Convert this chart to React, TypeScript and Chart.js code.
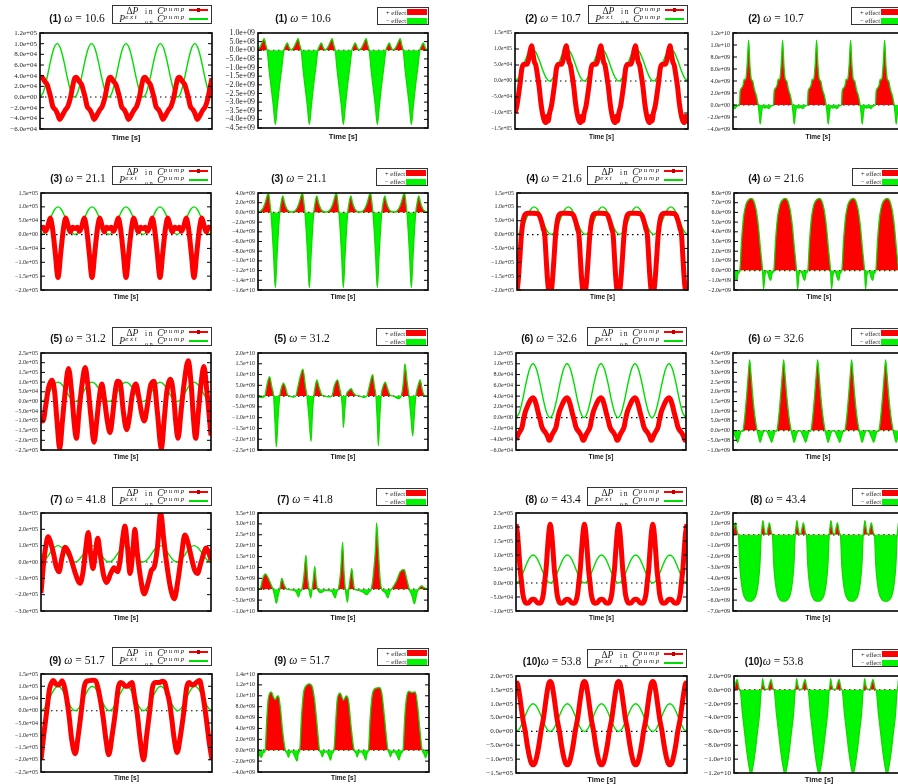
import React, { useEffect, useRef } from 'react';
import { Chart, registerables } from 'chart.js';
Chart.register(...registerables);

type Pt = [number, number];

// ---------- DATA (time in periods, values in panel units) ----------
const PEXT: Pt[] = [
[0,0],[.1,.95],[.2,3.45],[.3,6.55],[.4,9.05],[.5,10],[.6,9.05],[.7,6.55],[.8,3.45],[.9,.95],
[1,0],[1.1,.95],[1.2,3.45],[1.3,6.55],[1.4,9.05],[1.5,10],[1.6,9.05],[1.7,6.55],[1.8,3.45],[1.9,.95],
[2,0],[2.1,.95],[2.2,3.45],[2.3,6.55],[2.4,9.05],[2.5,10],[2.6,9.05],[2.7,6.55],[2.8,3.45],[2.9,.95],
[3,0],[3.1,.95],[3.2,3.45],[3.3,6.55],[3.4,9.05],[3.5,10],[3.6,9.05],[3.7,6.55],[3.8,3.45],[3.9,.95],
[4,0],[4.1,.95],[4.2,3.45],[4.3,6.55],[4.4,9.05],[4.5,10],[4.6,9.05],[4.7,6.55],[4.8,3.45],[4.9,.95],
[5,0]];

const P1L: Pt[] = [
[0,3.4],[.06,3.7],[.13,3],[.21,2.3],[.26,1.2],[.31,0],[.37,-1.75],[.45,-2.4],[.51,-3.2],[.57,-4.2],[.62,-3.8],[.67,-3.2],[.74,-2.4],[.81,-1.75],[.89,0],[.95,2],
[1,3.4],[1.06,3.7],[1.13,3],[1.21,2.3],[1.26,1.2],[1.31,0],[1.37,-1.75],[1.45,-2.4],[1.51,-3.2],[1.57,-4.2],[1.62,-3.8],[1.67,-3.2],[1.74,-2.4],[1.81,-1.75],[1.89,0],[1.95,2],
[2,3.4],[2.06,3.7],[2.13,3],[2.21,2.3],[2.26,1.2],[2.31,0],[2.37,-1.75],[2.45,-2.4],[2.51,-3.2],[2.57,-4.2],[2.62,-3.8],[2.67,-3.2],[2.74,-2.4],[2.81,-1.75],[2.89,0],[2.95,2],
[3,3.4],[3.06,3.7],[3.13,3],[3.21,2.3],[3.26,1.2],[3.31,0],[3.37,-1.75],[3.45,-2.4],[3.51,-3.2],[3.57,-4.2],[3.62,-3.8],[3.67,-3.2],[3.74,-2.4],[3.81,-1.75],[3.89,0],[3.95,2],
[4,3.4],[4.06,3.7],[4.13,3],[4.21,2.3],[4.26,1.2],[4.31,0],[4.37,-1.75],[4.45,-2.4],[4.51,-3.2],[4.57,-4.2],[4.62,-3.8],[4.67,-3.2],[4.74,-2.4],[4.81,-1.75],[4.89,0],[4.95,2],
[5,3.5]];

const P2L: Pt[] = [
[0,-10],[.05,-8],[.1,-4.5],[.15,-.5],[.2,4],[.27,5.2],[.34,5.2],[.4,7],[.44,9.5],[.48,11],[.52,8.5],[.56,6],[.6,5],[.64,2.5],[.7,-2],[.75,-7],[.8,-10.5],[.85,-12.5],[.9,-13],[.93,-11],[.96,-12.5],
[1,-10],[1.05,-8],[1.1,-4.5],[1.15,-.5],[1.2,4],[1.27,5.2],[1.34,5.2],[1.4,7],[1.44,9.5],[1.48,11],[1.52,8.5],[1.56,6],[1.6,5],[1.64,2.5],[1.7,-2],[1.75,-7],[1.8,-10.5],[1.85,-12.5],[1.9,-13],[1.93,-11],[1.96,-12.5],
[2,-10],[2.05,-8],[2.1,-4.5],[2.15,-.5],[2.2,4],[2.27,5.2],[2.34,5.2],[2.4,7],[2.44,9.5],[2.48,11],[2.52,8.5],[2.56,6],[2.6,5],[2.64,2.5],[2.7,-2],[2.75,-7],[2.8,-10.5],[2.85,-12.5],[2.9,-13],[2.93,-11],[2.96,-12.5],
[3,-10],[3.05,-8],[3.1,-4.5],[3.15,-.5],[3.2,4],[3.27,5.2],[3.34,5.2],[3.4,7],[3.44,9.5],[3.48,11],[3.52,8.5],[3.56,6],[3.6,5],[3.64,2.5],[3.7,-2],[3.75,-7],[3.8,-10.5],[3.85,-12.5],[3.9,-13],[3.93,-11],[3.96,-12.5],
[4,-10],[4.05,-8],[4.1,-4.5],[4.15,-.5],[4.2,4],[4.27,5.2],[4.34,5.2],[4.4,7],[4.44,9.5],[4.48,11],[4.52,8.5],[4.56,6],[4.6,5],[4.64,2.5],[4.7,-2],[4.75,-7],[4.8,-10.5],[4.85,-12.5],[4.9,-13],[4.93,-11],[4.96,-12.5],
[5,-10.5]];

const P3L: Pt[] = [
[0,2.2],[.07,2.6],[.13,1.2],[.2,3],[.27,6],[.33,3],[.38,-2],[.43,-8],[.47,-13.5],[.5,-15.5],[.53,-13.5],[.57,-8],[.62,-2],[.67,3],[.73,6],[.8,3],[.86,1],[.93,2.6],
[1,2.2],[1.07,2.6],[1.13,1.2],[1.2,3],[1.27,6],[1.33,3],[1.38,-2],[1.43,-8],[1.47,-13.5],[1.5,-15.5],[1.53,-13.5],[1.57,-8],[1.62,-2],[1.67,3],[1.73,6],[1.8,3],[1.86,1],[1.93,2.6],
[2,2.2],[2.07,2.6],[2.13,1.2],[2.2,3],[2.27,6],[2.33,3],[2.38,-2],[2.43,-8],[2.47,-13.5],[2.5,-15.5],[2.53,-13.5],[2.57,-8],[2.62,-2],[2.67,3],[2.73,6],[2.8,3],[2.86,1],[2.93,2.6],
[3,2.2],[3.07,2.6],[3.13,1.2],[3.2,3],[3.27,6],[3.33,3],[3.38,-2],[3.43,-8],[3.47,-13.5],[3.5,-15.5],[3.53,-13.5],[3.57,-8],[3.62,-2],[3.67,3],[3.73,6],[3.8,3],[3.86,1],[3.93,2.6],
[4,2.2],[4.07,2.6],[4.13,1.2],[4.2,3],[4.27,6],[4.33,3],[4.38,-2],[4.43,-8],[4.47,-13.5],[4.5,-15.5],[4.53,-13.5],[4.57,-8],[4.62,-2],[4.67,3],[4.73,6],[4.8,3],[4.86,1],[4.93,2.6],
[5,2.4]];

const P4L: Pt[] = [
[0,-20.5],[.04,-16],[.08,-9],[.13,0],[.18,5],[.24,7.3],[.32,7.7],[.45,7.7],[.58,7.6],[.65,7],[.72,4.5],[.77,2],[.81,0],[.85,-8],[.89,-16],[.93,-20.5],[.97,-21],
[1,-20.5],[1.04,-16],[1.08,-9],[1.13,0],[1.18,5],[1.24,7.3],[1.32,7.7],[1.45,7.7],[1.58,7.6],[1.65,7],[1.72,4.5],[1.77,2],[1.81,0],[1.85,-8],[1.89,-16],[1.93,-20.5],[1.97,-21],
[2,-20.5],[2.04,-16],[2.08,-9],[2.13,0],[2.18,5],[2.24,7.3],[2.32,7.7],[2.45,7.7],[2.58,7.6],[2.65,7],[2.72,4.5],[2.77,2],[2.81,0],[2.85,-8],[2.89,-16],[2.93,-20.5],[2.97,-21],
[3,-20.5],[3.04,-16],[3.08,-9],[3.13,0],[3.18,5],[3.24,7.3],[3.32,7.7],[3.45,7.7],[3.58,7.6],[3.65,7],[3.72,4.5],[3.77,2],[3.81,0],[3.85,-8],[3.89,-16],[3.93,-20.5],[3.97,-21],
[4,-20.5],[4.04,-16],[4.08,-9],[4.13,0],[4.18,5],[4.24,7.3],[4.32,7.7],[4.45,7.7],[4.58,7.6],[4.65,7],[4.72,4.5],[4.77,2],[4.81,0],[4.85,-8],[4.89,-16],[4.93,-20.5],[4.97,-21],
[5,-20.5]];

const P5L: Pt[] = [
[0,-8],[.06,-10],[.14,-2],[.22,7],[.32,11],[.4,5],[.47,-10],[.55,-24],[.63,-10],[.7,3],[.81,17],[.9,5],[.97,-10],
[1.04,-19],[1.12,-5],[1.2,8],[1.3,17.5],[1.38,8],[1.47,-8],[1.56,-21],[1.64,-10],[1.7,0],[1.79,9],[1.86,2],[1.95,-10],
[2.03,-16],[2.12,-5],[2.18,5],[2.25,10.5],[2.33,9.5],[2.42,-5],[2.52,-14.5],[2.6,-8],[2.68,3],[2.79,9],[2.88,2],[2.96,-6],
[3.04,-10],[3.13,-2],[3.22,8],[3.32,10.5],[3.42,-5],[3.54,-24],[3.63,-8],[3.7,5],[3.81,11.5],[3.9,3],[3.96,-10],
[4.03,-19],[4.12,-5],[4.2,8],[4.33,21],[4.42,8],[4.48,-8],[4.55,-19],[4.63,-5],[4.7,8],[4.79,18],[4.88,5],[5,-17.5]];

const P6L: Pt[] = [
[0,-4.1],[.06,-3.2],[.12,-2.5],[.18,-1.7],[.22,-.4],[.27,1],[.33,2],[.4,3],[.45,3.5],[.5,3.7],[.55,3.3],[.6,2.3],[.65,1],[.71,-.4],[.76,-1.7],[.81,-2.3],[.87,-2.8],[.93,-3.5],[.97,-4.2],
[1,-4.1],[1.06,-3.2],[1.12,-2.5],[1.18,-1.7],[1.22,-.4],[1.27,1],[1.33,2],[1.4,3],[1.45,3.5],[1.5,3.7],[1.55,3.3],[1.6,2.3],[1.65,1],[1.71,-.4],[1.76,-1.7],[1.81,-2.3],[1.87,-2.8],[1.93,-3.5],[1.97,-4.2],
[2,-4.1],[2.06,-3.2],[2.12,-2.5],[2.18,-1.7],[2.22,-.4],[2.27,1],[2.33,2],[2.4,3],[2.45,3.5],[2.5,3.7],[2.55,3.3],[2.6,2.3],[2.65,1],[2.71,-.4],[2.76,-1.7],[2.81,-2.3],[2.87,-2.8],[2.93,-3.5],[2.97,-4.2],
[3,-4.1],[3.06,-3.2],[3.12,-2.5],[3.18,-1.7],[3.22,-.4],[3.27,1],[3.33,2],[3.4,3],[3.45,3.5],[3.5,3.7],[3.55,3.3],[3.6,2.3],[3.65,1],[3.71,-.4],[3.76,-1.7],[3.81,-2.3],[3.87,-2.8],[3.93,-3.5],[3.97,-4.2],
[4,-4.1],[4.06,-3.2],[4.12,-2.5],[4.18,-1.7],[4.22,-.4],[4.27,1],[4.33,2],[4.4,3],[4.45,3.5],[4.5,3.7],[4.55,3.3],[4.6,2.3],[4.65,1],[4.71,-.4],[4.76,-1.7],[4.81,-2.3],[4.87,-2.8],[4.93,-3.5],[4.97,-4.2],
[5,-4.1]];

const P7L: Pt[] = [
[0,-19],[.08,0],[.16,12],[.21,15.5],[.27,13],[.37,5],[.45,-3],[.53,-6],[.62,3],[.71,9],[.81,6],[.91,0],
[1.01,-7],[1.15,-13],[1.23,-7],[1.3,5],[1.39,18],[1.46,5],[1.53,-4],[1.6,6],[1.67,14.5],[1.74,5],[1.84,-8],[1.93,-12.5],
[2.05,-7],[2.15,-3.5],[2.25,-6],[2.32,0],[2.4,14],[2.47,22],[2.54,10],[2.62,-7],[2.7,6],[2.76,20],[2.83,6],[2.93,-10],
[3.03,-19.5],[3.16,-12],[3.25,-5],[3.33,-3],[3.42,8],[3.52,30],[3.61,14],[3.69,0],[3.81,-16],[3.92,-22.5],
[4.03,-11],[4.13,4],[4.23,16.5],[4.32,12],[4.42,3],[4.52,-5],[4.6,-7],[4.71,0],[4.86,8.5],[4.96,4],[5,1]];

const P8L: Pt[] = [
[0,21],[.04,18],[.08,12],[.12,5],[.165,0],[.2,-4],[.25,-6.5],[.3,-7.2],[.38,-7],[.45,-6],[.5,-5.8],[.55,-6],[.62,-7],[.7,-7.2],[.75,-6.5],[.8,-4],[.835,0],[.88,5],[.92,12],[.96,18],
[1,21],[1.04,18],[1.08,12],[1.12,5],[1.165,0],[1.2,-4],[1.25,-6.5],[1.3,-7.2],[1.38,-7],[1.45,-6],[1.5,-5.8],[1.55,-6],[1.62,-7],[1.7,-7.2],[1.75,-6.5],[1.8,-4],[1.835,0],[1.88,5],[1.92,12],[1.96,18],
[2,21],[2.04,18],[2.08,12],[2.12,5],[2.165,0],[2.2,-4],[2.25,-6.5],[2.3,-7.2],[2.38,-7],[2.45,-6],[2.5,-5.8],[2.55,-6],[2.62,-7],[2.7,-7.2],[2.75,-6.5],[2.8,-4],[2.835,0],[2.88,5],[2.92,12],[2.96,18],
[3,21],[3.04,18],[3.08,12],[3.12,5],[3.165,0],[3.2,-4],[3.25,-6.5],[3.3,-7.2],[3.38,-7],[3.45,-6],[3.5,-5.8],[3.55,-6],[3.62,-7],[3.7,-7.2],[3.75,-6.5],[3.8,-4],[3.835,0],[3.88,5],[3.92,12],[3.96,18],
[4,21],[4.04,18],[4.08,12],[4.12,5],[4.165,0],[4.2,-4],[4.25,-6.5],[4.3,-7.2],[4.38,-7],[4.45,-6],[4.5,-5.8],[4.55,-6],[4.62,-7],[4.7,-7.2],[4.75,-6.5],[4.8,-4],[4.835,0],[4.88,5],[4.92,12],[4.96,18],
[5,21]];

const P9L: Pt[] = [
[0,-20],[.08,-10],[.17,0],[.25,9],[.31,11.5],[.36,12.3],[.43,11],[.49,10.5],[.55,11],[.62,12.2],[.68,10],[.75,5],[.82,-2],[.9,-12],
[1,-17.5],[1.09,-10],[1.18,0],[1.26,9.5],[1.33,12],[1.42,12.3],[1.52,12.5],[1.6,12.2],[1.67,9],[1.74,4],[1.82,-3],[1.9,-12],
[1.98,-18],[2.08,-10],[2.18,0],[2.26,9.5],[2.33,11.5],[2.4,11],[2.47,10],[2.53,10],[2.6,11],[2.66,11.5],[2.73,6],[2.82,-2],[2.9,-12],
[3,-20],[3.09,-10],[3.18,0],[3.26,9.5],[3.34,11.5],[3.45,11.5],[3.55,12],[3.62,11.5],[3.68,8],[3.75,4],[3.82,-3],[3.9,-12],
[3.98,-17],[4.08,-10],[4.18,0],[4.26,9.5],[4.33,11.5],[4.42,10.5],[4.5,11],[4.58,12],[4.64,12.3],[4.7,9],[4.76,4],[4.84,-4],[4.92,-13],[5,-20]];

const P10L: Pt[] = [
[0,18],[.05,17],[.1,13.5],[.15,9],[.2,4.5],[.27,0],[.33,-5],[.4,-9.5],[.45,-11.5],[.5,-12],[.55,-11.5],[.6,-9.5],[.67,-5],[.73,0],[.8,4.5],[.85,9],[.9,13.5],[.95,17],
[1,18],[1.05,17],[1.1,13.5],[1.15,9],[1.2,4.5],[1.27,0],[1.33,-5],[1.4,-9.5],[1.45,-11.5],[1.5,-12],[1.55,-11.5],[1.6,-9.5],[1.67,-5],[1.73,0],[1.8,4.5],[1.85,9],[1.9,13.5],[1.95,17],
[2,18],[2.05,17],[2.1,13.5],[2.15,9],[2.2,4.5],[2.27,0],[2.33,-5],[2.4,-9.5],[2.45,-11.5],[2.5,-12],[2.55,-11.5],[2.6,-9.5],[2.67,-5],[2.73,0],[2.8,4.5],[2.85,9],[2.9,13.5],[2.95,17],
[3,18],[3.05,17],[3.1,13.5],[3.15,9],[3.2,4.5],[3.27,0],[3.33,-5],[3.4,-9.5],[3.45,-11.5],[3.5,-12],[3.55,-11.5],[3.6,-9.5],[3.67,-5],[3.73,0],[3.8,4.5],[3.85,9],[3.9,13.5],[3.95,17],
[4,18],[4.05,17],[4.1,13.5],[4.15,9],[4.2,4.5],[4.27,0],[4.33,-5],[4.4,-9.5],[4.45,-11.5],[4.5,-12],[4.55,-11.5],[4.6,-9.5],[4.67,-5],[4.73,0],[4.8,4.5],[4.85,9],[4.9,13.5],[4.95,17],
[5,18]];

const P1R: Pt[] = [
[0,.05],[.06,.2],[.12,.45],[.18,.68],[.23,.3],[.27,0],[.33,-1.2],[.39,-2.2],[.45,-3.2],[.51,-4.3],[.57,-3.2],[.63,-2.1],[.7,-1],[.76,0],[.81,.25],[.86,.42],[.92,.15],[.97,.02],
[1,.05],[1.06,.2],[1.12,.45],[1.18,.68],[1.23,.3],[1.27,0],[1.33,-1.2],[1.39,-2.2],[1.45,-3.2],[1.51,-4.3],[1.57,-3.2],[1.63,-2.1],[1.7,-1],[1.76,0],[1.81,.25],[1.86,.42],[1.92,.15],[1.97,.02],
[2,.05],[2.06,.2],[2.12,.45],[2.18,.68],[2.23,.3],[2.27,0],[2.33,-1.2],[2.39,-2.2],[2.45,-3.2],[2.51,-4.3],[2.57,-3.2],[2.63,-2.1],[2.7,-1],[2.76,0],[2.81,.25],[2.86,.42],[2.92,.15],[2.97,.02],
[3,.05],[3.06,.2],[3.12,.45],[3.18,.68],[3.23,.3],[3.27,0],[3.33,-1.2],[3.39,-2.2],[3.45,-3.2],[3.51,-4.3],[3.57,-3.2],[3.63,-2.1],[3.7,-1],[3.76,0],[3.81,.25],[3.86,.42],[3.92,.15],[3.97,.02],
[4,.05],[4.06,.2],[4.12,.45],[4.18,.68],[4.23,.3],[4.27,0],[4.33,-1.2],[4.39,-2.2],[4.45,-3.2],[4.51,-4.3],[4.57,-3.2],[4.63,-2.1],[4.7,-1],[4.76,0],[4.81,.25],[4.86,.42],[4.92,.15],[4.97,.02],
[5,.05]];

const P2R: Pt[] = [
[0,-.4],[.05,-.6],[.1,-.3],[.15,-.1],[.19,0],[.21,2.3],[.25,2.8],[.3,3.4],[.33,4.3],[.37,4.2],[.42,7],[.46,10.8],[.5,6.5],[.54,4.3],[.58,4],[.63,2.6],[.69,1.5],[.74,0],[.77,-1.5],[.8,-3.2],[.84,-1.2],[.88,-.3],[.94,-.5],
[1,-.4],[1.05,-.6],[1.1,-.3],[1.15,-.1],[1.19,0],[1.21,2.3],[1.25,2.8],[1.3,3.4],[1.33,4.3],[1.37,4.2],[1.42,7],[1.46,10.8],[1.5,6.5],[1.54,4.3],[1.58,4],[1.63,2.6],[1.69,1.5],[1.74,0],[1.77,-1.5],[1.8,-3.2],[1.84,-1.2],[1.88,-.3],[1.94,-.5],
[2,-.4],[2.05,-.6],[2.1,-.3],[2.15,-.1],[2.19,0],[2.21,2.3],[2.25,2.8],[2.3,3.4],[2.33,4.3],[2.37,4.2],[2.42,7],[2.46,10.8],[2.5,6.5],[2.54,4.3],[2.58,4],[2.63,2.6],[2.69,1.5],[2.74,0],[2.77,-1.5],[2.8,-3.2],[2.84,-1.2],[2.88,-.3],[2.94,-.5],
[3,-.4],[3.05,-.6],[3.1,-.3],[3.15,-.1],[3.19,0],[3.21,2.3],[3.25,2.8],[3.3,3.4],[3.33,4.3],[3.37,4.2],[3.42,7],[3.46,10.8],[3.5,6.5],[3.54,4.3],[3.58,4],[3.63,2.6],[3.69,1.5],[3.74,0],[3.77,-1.5],[3.8,-3.2],[3.84,-1.2],[3.88,-.3],[3.94,-.5],
[4,-.4],[4.05,-.6],[4.1,-.3],[4.15,-.1],[4.19,0],[4.21,2.3],[4.25,2.8],[4.3,3.4],[4.33,4.3],[4.37,4.2],[4.42,7],[4.46,10.8],[4.5,6.5],[4.54,4.3],[4.58,4],[4.63,2.6],[4.69,1.5],[4.74,0],[4.77,-1.5],[4.8,-3.2],[4.84,-1.2],[4.88,-.3],[4.94,-.5],
[5,-.4]];

const P3R: Pt[] = [
[0,.1],[.08,.3],[.15,.9],[.22,2.2],[.27,3.5],[.31,4],[.35,2],[.38,0],[.42,-4],[.46,-9],[.51,-15.5],[.56,-9],[.6,-4],[.64,0],[.68,2],[.73,3.4],[.78,2],[.85,.7],[.92,.2],
[1,.1],[1.08,.3],[1.15,.9],[1.22,2.2],[1.27,3.5],[1.31,4],[1.35,2],[1.38,0],[1.42,-4],[1.46,-9],[1.51,-15.5],[1.56,-9],[1.6,-4],[1.64,0],[1.68,2],[1.73,3.4],[1.78,2],[1.85,.7],[1.92,.2],
[2,.1],[2.08,.3],[2.15,.9],[2.22,2.2],[2.27,3.5],[2.31,4],[2.35,2],[2.38,0],[2.42,-4],[2.46,-9],[2.51,-15.5],[2.56,-9],[2.6,-4],[2.64,0],[2.68,2],[2.73,3.4],[2.78,2],[2.85,.7],[2.92,.2],
[3,.1],[3.08,.3],[3.15,.9],[3.22,2.2],[3.27,3.5],[3.31,4],[3.35,2],[3.38,0],[3.42,-4],[3.46,-9],[3.51,-15.5],[3.56,-9],[3.6,-4],[3.64,0],[3.68,2],[3.73,3.4],[3.78,2],[3.85,.7],[3.92,.2],
[4,.1],[4.08,.3],[4.15,.9],[4.22,2.2],[4.27,3.5],[4.31,4],[4.35,2],[4.38,0],[4.42,-4],[4.46,-9],[4.51,-15.5],[4.56,-9],[4.6,-4],[4.64,0],[4.68,2],[4.73,3.4],[4.78,2],[4.85,.7],[4.92,.2],
[5,.1]];

const P4R: Pt[] = [
[0,-.3],[.04,-.8],[.08,-1],[.12,-.3],[.17,0],[.22,3],[.28,5.5],[.35,6.8],[.43,7.3],[.51,7.45],[.58,7.2],[.65,6.3],[.72,4.5],[.78,2.2],[.84,0],[.87,-1.9],[.91,-.5],[.96,-.1],
[1,-.3],[1.04,-.8],[1.08,-1],[1.12,-.3],[1.17,0],[1.22,3],[1.28,5.5],[1.35,6.8],[1.43,7.3],[1.51,7.45],[1.58,7.2],[1.65,6.3],[1.72,4.5],[1.78,2.2],[1.84,0],[1.87,-1.9],[1.91,-.5],[1.96,-.1],
[2,-.3],[2.04,-.8],[2.08,-1],[2.12,-.3],[2.17,0],[2.22,3],[2.28,5.5],[2.35,6.8],[2.43,7.3],[2.51,7.45],[2.58,7.2],[2.65,6.3],[2.72,4.5],[2.78,2.2],[2.84,0],[2.87,-1.9],[2.91,-.5],[2.96,-.1],
[3,-.3],[3.04,-.8],[3.08,-1],[3.12,-.3],[3.17,0],[3.22,3],[3.28,5.5],[3.35,6.8],[3.43,7.3],[3.51,7.45],[3.58,7.2],[3.65,6.3],[3.72,4.5],[3.78,2.2],[3.84,0],[3.87,-1.9],[3.91,-.5],[3.96,-.1],
[4,-.3],[4.04,-.8],[4.08,-1],[4.12,-.3],[4.17,0],[4.22,3],[4.28,5.5],[4.35,6.8],[4.43,7.3],[4.51,7.45],[4.58,7.2],[4.65,6.3],[4.72,4.5],[4.78,2.2],[4.84,0],[4.87,-1.9],[4.91,-.5],[4.96,-.1],
[5,-.3]];

const P5R: Pt[] = [
[0,-.3],[.12,-.7],[.2,0],[.26,5],[.34,9],[.41,4],[.46,0],[.5,-12],[.54,-23.5],[.59,-10],[.64,0],[.7,4.5],[.75,6],[.81,4],[.87,.5],[.95,0],
[1.03,-.5],[1.11,0],[1.17,4],[1.24,9],[1.32,12.5],[1.4,4],[1.44,0],[1.5,-10],[1.56,-21],[1.6,-8],[1.64,0],[1.69,5],[1.73,7.5],[1.8,4],[1.88,.5],[1.98,0],
[2.07,-.4],[2.17,0],[2.25,5],[2.34,7.5],[2.41,3],[2.45,0],[2.49,-7],[2.51,-14.5],[2.55,-7],[2.59,0],[2.67,2.5],[2.74,3.5],[2.81,1.5],[2.89,.3],[3,0],
[3.1,-.6],[3.2,0],[3.28,5],[3.37,10],[3.43,4],[3.47,0],[3.51,-12],[3.54,-23],[3.58,-10],[3.62,0],[3.69,5],[3.74,6.5],[3.81,3.5],[3.88,.5],[3.98,0],
[4.13,-1.2],[4.21,0],[4.28,7],[4.32,15],[4.39,6],[4.44,0],[4.5,-10],[4.55,-18.5],[4.6,-8],[4.64,0],[4.71,5],[4.77,7.5],[4.83,3],[4.91,0],[5,0]];

const P6R: Pt[] = [
[0,-.05],[.05,-.25],[.1,-.45],[.14,-.6],[.19,-.3],[.24,-.05],[.29,0],[.35,.8],[.4,1.8],[.45,2.9],[.49,3.65],[.53,2.9],[.58,1.8],[.64,.8],[.71,0],[.75,-.3],[.8,-.6],[.85,-.3],[.9,-.05],[.95,0],
[1,-.05],[1.05,-.25],[1.1,-.45],[1.14,-.6],[1.19,-.3],[1.24,-.05],[1.29,0],[1.35,.8],[1.4,1.8],[1.45,2.9],[1.49,3.65],[1.53,2.9],[1.58,1.8],[1.64,.8],[1.71,0],[1.75,-.3],[1.8,-.6],[1.85,-.3],[1.9,-.05],[1.95,0],
[2,-.05],[2.05,-.25],[2.1,-.45],[2.14,-.6],[2.19,-.3],[2.24,-.05],[2.29,0],[2.35,.8],[2.4,1.8],[2.45,2.9],[2.49,3.65],[2.53,2.9],[2.58,1.8],[2.64,.8],[2.71,0],[2.75,-.3],[2.8,-.6],[2.85,-.3],[2.9,-.05],[2.95,0],
[3,-.05],[3.05,-.25],[3.1,-.45],[3.14,-.6],[3.19,-.3],[3.24,-.05],[3.29,0],[3.35,.8],[3.4,1.8],[3.45,2.9],[3.49,3.65],[3.53,2.9],[3.58,1.8],[3.64,.8],[3.71,0],[3.75,-.3],[3.8,-.6],[3.85,-.3],[3.9,-.05],[3.95,0],
[4,-.05],[4.05,-.25],[4.1,-.45],[4.14,-.6],[4.19,-.3],[4.24,-.05],[4.29,0],[4.35,.8],[4.4,1.8],[4.45,2.9],[4.49,3.65],[4.53,2.9],[4.58,1.8],[4.64,.8],[4.71,0],[4.75,-.3],[4.8,-.6],[4.85,-.3],[4.9,-.05],[4.95,0],
[5,-.05]];

const P7R: Pt[] = [
[0,0],[.07,.5],[.14,5],[.22,7],[.29,5.5],[.36,3],[.44,0],[.49,-3],[.54,-6.5],[.59,-3],[.64,0],[.7,5],[.77,2],[.85,0],
[1.05,-.5],[1.13,-1.5],[1.19,-3.5],[1.24,-1],[1.29,0],[1.35,6],[1.41,15.5],[1.46,5],[1.5,0],[1.55,-4],[1.59,0],[1.63,5],[1.67,10.5],[1.71,4],[1.75,0],[1.85,-1.5],
[1.98,-.5],[2.17,-1],[2.22,-2.5],[2.27,-4],[2.32,-1],[2.36,0],[2.43,8],[2.49,21.5],[2.53,8],[2.57,0],[2.63,-6],[2.67,0],[2.72,6],[2.76,9.5],[2.8,4],[2.84,0],
[2.95,-.5],[3.1,-1.5],[3.2,-2.5],[3.28,-1],[3.33,0],[3.4,8],[3.46,20],[3.49,30.5],[3.54,18],[3.59,5],[3.64,0],[3.74,-1.5],[3.82,-4],[3.88,-1],[3.93,0],
[4.08,4],[4.18,8],[4.3,9],[4.37,5],[4.45,0],[4.53,-3],[4.6,-6.7],[4.67,-2],[4.72,0],[4.81,1.5],[4.91,.5],[5,0]];

const P8R: Pt[] = [
[0,.1],[.03,.6],[.07,1.1],[.11,.5],[.14,.1],[.16,0],[.2,-2.8],[.25,-4.5],[.3,-5.4],[.37,-5.9],[.45,-6.1],[.5,-6.1],[.55,-6.1],[.62,-5.9],[.69,-5.4],[.74,-4.5],[.79,-2.8],[.83,0],[.85,.6],[.88,1.3],[.92,.5],[.96,.05],
[1,.1],[1.03,.6],[1.07,1.1],[1.11,.5],[1.14,.1],[1.16,0],[1.2,-2.8],[1.25,-4.5],[1.3,-5.4],[1.37,-5.9],[1.45,-6.1],[1.5,-6.1],[1.55,-6.1],[1.62,-5.9],[1.69,-5.4],[1.74,-4.5],[1.79,-2.8],[1.83,0],[1.85,.6],[1.88,1.3],[1.92,.5],[1.96,.05],
[2,.1],[2.03,.6],[2.07,1.1],[2.11,.5],[2.14,.1],[2.16,0],[2.2,-2.8],[2.25,-4.5],[2.3,-5.4],[2.37,-5.9],[2.45,-6.1],[2.5,-6.1],[2.55,-6.1],[2.62,-5.9],[2.69,-5.4],[2.74,-4.5],[2.79,-2.8],[2.83,0],[2.85,.6],[2.88,1.3],[2.92,.5],[2.96,.05],
[3,.1],[3.03,.6],[3.07,1.1],[3.11,.5],[3.14,.1],[3.16,0],[3.2,-2.8],[3.25,-4.5],[3.3,-5.4],[3.37,-5.9],[3.45,-6.1],[3.5,-6.1],[3.55,-6.1],[3.62,-5.9],[3.69,-5.4],[3.74,-4.5],[3.79,-2.8],[3.83,0],[3.85,.6],[3.88,1.3],[3.92,.5],[3.96,.05],
[4,.1],[4.03,.6],[4.07,1.1],[4.11,.5],[4.14,.1],[4.16,0],[4.2,-2.8],[4.25,-4.5],[4.3,-5.4],[4.37,-5.9],[4.45,-6.1],[4.5,-6.1],[4.55,-6.1],[4.62,-5.9],[4.69,-5.4],[4.74,-4.5],[4.79,-2.8],[4.83,0],[4.85,.6],[4.88,1.3],[4.92,.5],[4.96,.05],
[5,.1]];

const P9R: Pt[] = [
[0,-.5],[.05,-1],[.1,-1.3],[.15,-.5],[.21,0],[.25,5],[.3,9.5],[.39,10.7],[.45,9.8],[.5,9.3],[.56,9.9],[.6,10],[.66,7.5],[.72,3.5],[.8,0],[.85,-.6],[.89,-1.3],[.94,-.4],
[1,-.3],[1.08,-1.2],[1.14,-2],[1.18,-.6],[1.22,0],[1.27,6],[1.33,10.5],[1.4,11.8],[1.5,12.2],[1.58,11.8],[1.66,9],[1.73,4.5],[1.8,0],[1.84,-.5],[1.88,-1.2],[1.93,-.4],
[2,-.3],[2.07,-1],[2.12,-1.8],[2.17,-.6],[2.22,0],[2.27,5],[2.32,9.5],[2.4,10.5],[2.5,9.2],[2.58,10],[2.65,9],[2.72,4.5],[2.81,0],[2.86,-.5],[2.9,-1.2],[2.95,-.4],
[3.02,-.3],[3.1,-1],[3.15,-1.8],[3.19,-.6],[3.23,0],[3.28,6],[3.35,10.5],[3.45,11.4],[3.55,11.5],[3.62,10.5],[3.7,6],[3.8,0],[3.84,-.5],[3.87,-1.2],[3.92,-.4],
[3.99,-.3],[4.07,-1],[4.12,-1.8],[4.18,-.6],[4.24,0],[4.29,6],[4.35,10],[4.42,10.8],[4.5,10.6],[4.6,10.7],[4.67,8],[4.73,4],[4.8,0],[4.85,-.6],[4.9,-1.4],[4.95,-.5],[5,-.3]];

const P10R: Pt[] = [
[0,.1],[.04,.8],[.09,1.5],[.13,.6],[.16,.1],[.18,0],[.25,-3.5],[.32,-6.5],[.38,-9],[.44,-11],[.5,-12.2],[.56,-11],[.62,-9],[.68,-6.5],[.75,-3.5],[.8,0],[.82,.5],[.84,1.6],[.88,.6],[.93,.05],[.97,.1],
[1,.1],[1.04,.8],[1.09,1.5],[1.13,.6],[1.16,.1],[1.18,0],[1.25,-3.5],[1.32,-6.5],[1.38,-9],[1.44,-11],[1.5,-12.2],[1.56,-11],[1.62,-9],[1.68,-6.5],[1.75,-3.5],[1.8,0],[1.82,.5],[1.84,1.6],[1.88,.6],[1.93,.05],[1.97,.1],
[2,.1],[2.04,.8],[2.09,1.5],[2.13,.6],[2.16,.1],[2.18,0],[2.25,-3.5],[2.32,-6.5],[2.38,-9],[2.44,-11],[2.5,-12.2],[2.56,-11],[2.62,-9],[2.68,-6.5],[2.75,-3.5],[2.8,0],[2.82,.5],[2.84,1.6],[2.88,.6],[2.93,.05],[2.97,.1],
[3,.1],[3.04,.8],[3.09,1.5],[3.13,.6],[3.16,.1],[3.18,0],[3.25,-3.5],[3.32,-6.5],[3.38,-9],[3.44,-11],[3.5,-12.2],[3.56,-11],[3.62,-9],[3.68,-6.5],[3.75,-3.5],[3.8,0],[3.82,.5],[3.84,1.6],[3.88,.6],[3.93,.05],[3.97,.1],
[4,.1],[4.04,.8],[4.09,1.5],[4.13,.6],[4.16,.1],[4.18,0],[4.25,-3.5],[4.32,-6.5],[4.38,-9],[4.44,-11],[4.5,-12.2],[4.56,-11],[4.62,-9],[4.68,-6.5],[4.75,-3.5],[4.8,0],[4.82,.5],[4.84,1.6],[4.88,.6],[4.93,.05],[4.97,.1],
[5,.1]];

// ---------- LAYOUT ----------
interface Spec {
  n: string; omega: string; kind: 'dp' | 'eff'; data: Pt[]; unit: number;
  yMin: number; yMax: number; step: number;
  x: number; y: number; w: number; h: number;
  tf: number; xf: number; xg: number;
  tx: number; ty: number; lx: number; ly: number;
}

const PANELS: Spec[] = [
  { n: '1', omega: '10.6', kind: 'dp', data: P1L, unit: 1e4, yMin: -6e4, yMax: 1.2e5, step: 2e4, x: 40, y: 33, w: 172, h: 96, tf: 7, xf: 7.5, xg: 8, tx: 77, ty: 17, lx: 112, ly: 5 },
  { n: '1', omega: '10.6', kind: 'eff', data: P1R, unit: 1e9, yMin: -4.5e9, yMax: 1e9, step: 5e8, x: 258, y: 33, w: 170, h: 95, tf: 7.8, xf: 7.5, xg: 8, tx: 303, ty: 17, lx: 377, ly: 7 },
  { n: '2', omega: '10.7', kind: 'dp', data: P2L, unit: 1e4, yMin: -1.5e5, yMax: 1.5e5, step: 5e4, x: 515, y: 33, w: 173, h: 96, tf: 5.5, xf: 6.5, xg: 8, tx: 553, ty: 17, lx: 588, ly: 5 },
  { n: '2', omega: '10.7', kind: 'eff', data: P2R, unit: 1e9, yMin: -4e9, yMax: 1.2e10, step: 2e9, x: 733, y: 33, w: 170, h: 96, tf: 6, xf: 6.5, xg: 8, tx: 776, ty: 17, lx: 851, ly: 7 },
  { n: '3', omega: '21.1', kind: 'dp', data: P3L, unit: 1e4, yMin: -2e5, yMax: 1.5e5, step: 5e4, x: 41, y: 193, w: 170, h: 97, tf: 6, xf: 6.5, xg: 7, tx: 78, ty: 177, lx: 112, ly: 166 },
  { n: '3', omega: '21.1', kind: 'eff', data: P3R, unit: 1e9, yMin: -1.6e10, yMax: 4e9, step: 2e9, x: 258, y: 193, w: 170, h: 97, tf: 6, xf: 6.5, xg: 7, tx: 299, ty: 177, lx: 376, ly: 168 },
  { n: '4', omega: '21.6', kind: 'dp', data: P4L, unit: 1e4, yMin: -2e5, yMax: 1.5e5, step: 5e4, x: 517, y: 193, w: 171, h: 97, tf: 6, xf: 6.5, xg: 7, tx: 554, ty: 177, lx: 587, ly: 166 },
  { n: '4', omega: '21.6', kind: 'eff', data: P4R, unit: 1e9, yMin: -2e9, yMax: 8e9, step: 1e9, x: 734, y: 193, w: 170, h: 97, tf: 6, xf: 6.5, xg: 7, tx: 776, ty: 177, lx: 852, ly: 168 },
  { n: '5', omega: '31.2', kind: 'dp', data: P5L, unit: 1e4, yMin: -2.5e5, yMax: 2.5e5, step: 5e4, x: 41, y: 353, w: 170, h: 97, tf: 6, xf: 6.5, xg: 7, tx: 78, ty: 337, lx: 112, ly: 327 },
  { n: '5', omega: '31.2', kind: 'eff', data: P5R, unit: 1e9, yMin: -2.5e10, yMax: 2e10, step: 5e9, x: 258, y: 353, w: 170, h: 97, tf: 6, xf: 6.5, xg: 7, tx: 302, ty: 337, lx: 376, ly: 328 },
  { n: '6', omega: '32.6', kind: 'dp', data: P6L, unit: 1e4, yMin: -6e4, yMax: 1.2e5, step: 2e4, x: 516, y: 353, w: 170, h: 97, tf: 6, xf: 6.5, xg: 7, tx: 549, ty: 337, lx: 587, ly: 327 },
  { n: '6', omega: '32.6', kind: 'eff', data: P6R, unit: 1e9, yMin: -1e9, yMax: 4e9, step: 5e8, x: 733, y: 353, w: 170, h: 97, tf: 6, xf: 6.5, xg: 7, tx: 776, ty: 337, lx: 851, ly: 328 },
  { n: '7', omega: '41.8', kind: 'dp', data: P7L, unit: 1e4, yMin: -3e5, yMax: 3e5, step: 1e5, x: 41, y: 513, w: 170, h: 98, tf: 6, xf: 6.5, xg: 7, tx: 78, ty: 498, lx: 112, ly: 487 },
  { n: '7', omega: '41.8', kind: 'eff', data: P7R, unit: 1e9, yMin: -1e10, yMax: 3.5e10, step: 5e9, x: 258, y: 513, w: 170, h: 98, tf: 6, xf: 6.5, xg: 7, tx: 305, ty: 498, lx: 376, ly: 488 },
  { n: '8', omega: '43.4', kind: 'dp', data: P8L, unit: 1e4, yMin: -1e5, yMax: 2.5e5, step: 5e4, x: 516, y: 513, w: 171, h: 98, tf: 6, xf: 6.5, xg: 7, tx: 553, ty: 498, lx: 587, ly: 487 },
  { n: '8', omega: '43.4', kind: 'eff', data: P8R, unit: 1e9, yMin: -7e9, yMax: 2e9, step: 1e9, x: 733, y: 513, w: 170, h: 98, tf: 6, xf: 6.5, xg: 7, tx: 778, ty: 498, lx: 852, ly: 488 },
  { n: '9', omega: '51.7', kind: 'dp', data: P9L, unit: 1e4, yMin: -2.5e5, yMax: 1.5e5, step: 5e4, x: 41, y: 674, w: 171, h: 98, tf: 6, xf: 6.5, xg: 6, tx: 77, ty: 659, lx: 112, ly: 647 },
  { n: '9', omega: '51.7', kind: 'eff', data: P9R, unit: 1e9, yMin: -4e9, yMax: 1.4e10, step: 2e9, x: 258, y: 674, w: 171, h: 98, tf: 6, xf: 6.5, xg: 6, tx: 302, ty: 659, lx: 377, ly: 648 },
  { n: '10', omega: '53.8', kind: 'dp', data: P10L, unit: 1e4, yMin: -1.5e5, yMax: 2e5, step: 5e4, x: 516, y: 676, w: 171, h: 97, tf: 7, xf: 7.5, xg: 6, tx: 552, ty: 660, lx: 587, ly: 649 },
  { n: '10', omega: '53.8', kind: 'eff', data: P10R, unit: 1e9, yMin: -1.2e10, yMax: 2e9, step: 2e9, x: 734, y: 676, w: 170, h: 97, tf: 7, xf: 7.5, xg: 6, tx: 774, ty: 660, lx: 852, ly: 649 },
];

const RED = '#ff0000';
const LINE_GREEN = '#00dd00';
const FILL_GREEN = '#00f500';
const SERIF = '"Liberation Serif", "Times New Roman", serif';
const SANS = '"Liberation Sans", Arial, sans-serif';
const Y_AXIS_W = 40;
const TOP_PAD = 10;
const RIGHT_PAD = 4;

function fmt(v: number): string {
  const s = Math.abs(v) < 1e-9 ? '0.0e+00' : v.toExponential(1).replace(/e([+-])(\d)$/, 'e$10$2');
  return s.replace('-', '\u2212');
}

const framePlugin = {
  id: 'gnuframe',
  beforeDatasetsDraw(chart: any) {
    const { ctx, chartArea: a, scales } = chart;
    const y0 = scales.y.getPixelForValue(0);
    ctx.save();
    ctx.strokeStyle = '#000';
    ctx.lineWidth = 1.2;
    ctx.setLineDash([1.5, 3.5]);
    ctx.beginPath();
    ctx.moveTo(a.left, y0);
    ctx.lineTo(a.right, y0);
    ctx.stroke();
    ctx.restore();
  },
  afterDraw(chart: any) {
    const { ctx, chartArea: a, scales } = chart;
    ctx.save();
    ctx.strokeStyle = '#000';
    ctx.lineWidth = 1;
    ctx.beginPath();
    for (const t of scales.y.ticks) {
      const py = scales.y.getPixelForValue(t.value);
      ctx.moveTo(a.left, py); ctx.lineTo(a.left + 4, py);
      ctx.moveTo(a.right, py); ctx.lineTo(a.right - 4, py);
    }
    ctx.stroke();
    ctx.lineWidth = 1.6;
    ctx.strokeRect(a.left, a.top, a.right - a.left, a.bottom - a.top);
    ctx.restore();
  },
};

function buildConfig(p: Spec): any {
  const toXY = (arr: Pt[], unit: number) => arr.map(([t, v]) => ({ x: t, y: v * unit }));
  const datasets: any[] = [];
  if (p.kind === 'dp') {
    datasets.push({ data: toXY(p.data, p.unit), borderColor: RED, borderWidth: 5, pointRadius: 0, cubicInterpolationMode: 'monotone', fill: false });
    datasets.push({ data: toXY(PEXT, 1e4), borderColor: LINE_GREEN, borderWidth: 1.4, pointRadius: 0, cubicInterpolationMode: 'monotone', fill: false });
  } else {
    datasets.push({ data: toXY(p.data, p.unit), borderColor: 'rgb(20,215,0)', borderWidth: 1.3, pointRadius: 0, cubicInterpolationMode: 'monotone',
      fill: { target: 'origin', above: RED, below: FILL_GREEN } });
  }
  const xh = Math.round(p.xg + p.xf * 0.6);
  return {
    type: 'line',
    data: { datasets },
    options: {
      animation: false, responsive: false, devicePixelRatio: 1,
      layout: { padding: { top: TOP_PAD, right: RIGHT_PAD, bottom: 0, left: 0 } },
      plugins: { legend: { display: false }, tooltip: { enabled: false }, title: { display: false } },
      scales: {
        x: {
          type: 'linear', min: 0, max: 5,
          ticks: { display: false }, grid: { display: false }, border: { display: false },
          title: { display: true, text: 'Time [s]', color: '#111', padding: 0, font: { family: SANS, weight: 'bold', size: p.xf } },
          afterFit: (s: any) => { s.height = xh; },
        },
        y: {
          type: 'linear', min: p.yMin, max: p.yMax,
          grid: { display: false, drawTicks: false }, border: { display: false },
          ticks: { autoSkip: false, padding: 3, color: '#222', font: { family: SERIF, size: p.tf }, callback: (v: number) => fmt(v) },
          afterBuildTicks: (s: any) => {
            const n = Math.round((p.yMax - p.yMin) / p.step);
            const t = [];
            for (let i = 0; i <= n; i++) t.push({ value: p.yMin + i * p.step });
            s.ticks = t;
          },
          afterFit: (s: any) => { s.width = Y_AXIS_W; },
        },
      },
    },
    plugins: [framePlugin],
  };
}

function Title({ p }: { p: Spec }) {
  return (
    <div style={{ position: 'absolute', left: p.tx, top: p.ty, transform: 'translate(-50%,-50%)', whiteSpace: 'nowrap', lineHeight: 1, color: '#111' }}>
      <span style={{ fontFamily: SANS, fontWeight: 'bold', fontSize: 10 }}>({p.n})</span>
      <span style={{ fontFamily: SERIF, fontSize: 11.5 }}>{p.n.length > 1 ? '' : '\u00a0'}<i>ω</i> = {p.omega}</span>
    </div>
  );
}

const supStyle: React.CSSProperties = { fontSize: 7, fontStyle: 'italic', letterSpacing: 1.7, position: 'relative', top: -3.5 };

function DpLegend({ x, y }: { x: number; y: number }) {
  return (
    <div style={{ position: 'absolute', left: x, top: y, width: 100, height: 19, boxSizing: 'border-box', border: '1.5px solid #333', background: '#fff', fontFamily: SERIF, fontSize: 9.5, color: '#222' }}>
      <div style={{ position: 'absolute', right: 25, top: 1, lineHeight: '9px', whiteSpace: 'nowrap' }}>
        Δ<i>P</i><span style={{ fontSize: 7.5, letterSpacing: 1.5 }}>&nbsp; in&nbsp;</span><i>C</i><span style={supStyle}>pump</span>
      </div>
      <div style={{ position: 'absolute', right: 25, top: 9, lineHeight: '9px', whiteSpace: 'nowrap' }}>
        <i>P</i><span style={supStyle}>ext</span><span style={{ fontSize: 6.5, letterSpacing: 1.5, position: 'relative', top: 1.5 }}>&nbsp; on&nbsp;</span><i>C</i><span style={supStyle}>pump</span>
      </div>
      <div style={{ position: 'absolute', left: 76, top: 3, width: 19, height: 2, background: RED }} />
      <div style={{ position: 'absolute', left: 84, top: 2, width: 3, height: 4, background: '#c00000' }} />
      <div style={{ position: 'absolute', left: 76, top: 12, width: 19, height: 1.5, background: LINE_GREEN }} />
    </div>
  );
}

function EffLegend({ x, y }: { x: number; y: number }) {
  const txt: React.CSSProperties = { position: 'absolute', right: 22, lineHeight: '8px', whiteSpace: 'nowrap', fontSize: 6.5 };
  return (
    <div style={{ position: 'absolute', left: x, top: y, width: 52, height: 18, boxSizing: 'border-box', border: '1.5px solid #333', background: '#fff', fontFamily: SERIF, color: '#222' }}>
      <div style={{ ...txt, top: 0.5 }}>+ effect</div>
      <div style={{ ...txt, top: 8.5 }}>{'\u2212'} effect</div>
      <div style={{ position: 'absolute', left: 28.5, top: 1, width: 20, height: 6, background: RED }} />
      <div style={{ position: 'absolute', left: 28.5, top: 9.5, width: 20, height: 6, background: FILL_GREEN }} />
    </div>
  );
}

function Panel({ p }: { p: Spec }) {
  const ref = useRef<HTMLCanvasElement>(null);
  const xh = Math.round(p.xg + p.xf * 0.6);
  const cw = Y_AXIS_W + p.w + RIGHT_PAD;
  const ch = TOP_PAD + p.h + xh;
  useEffect(() => {
    const chart = new Chart(ref.current as HTMLCanvasElement, buildConfig(p));
    return () => chart.destroy();
  }, []);
  return (
    <>
      <canvas ref={ref} width={cw} height={ch} style={{ position: 'absolute', left: p.x - Y_AXIS_W, top: p.y - TOP_PAD, width: cw, height: ch }} />
      <Title p={p} />
      {p.kind === 'dp' ? <DpLegend x={p.lx} y={p.ly} /> : <EffLegend x={p.lx} y={p.ly} />}
    </>
  );
}

export default function App() {
  return (
    <div style={{ position: 'fixed', left: 0, top: 0, width: 898, height: 784, overflow: 'hidden', background: '#fff' }}>
      {PANELS.map((p, i) => <Panel key={i} p={p} />)}
    </div>
  );
}
